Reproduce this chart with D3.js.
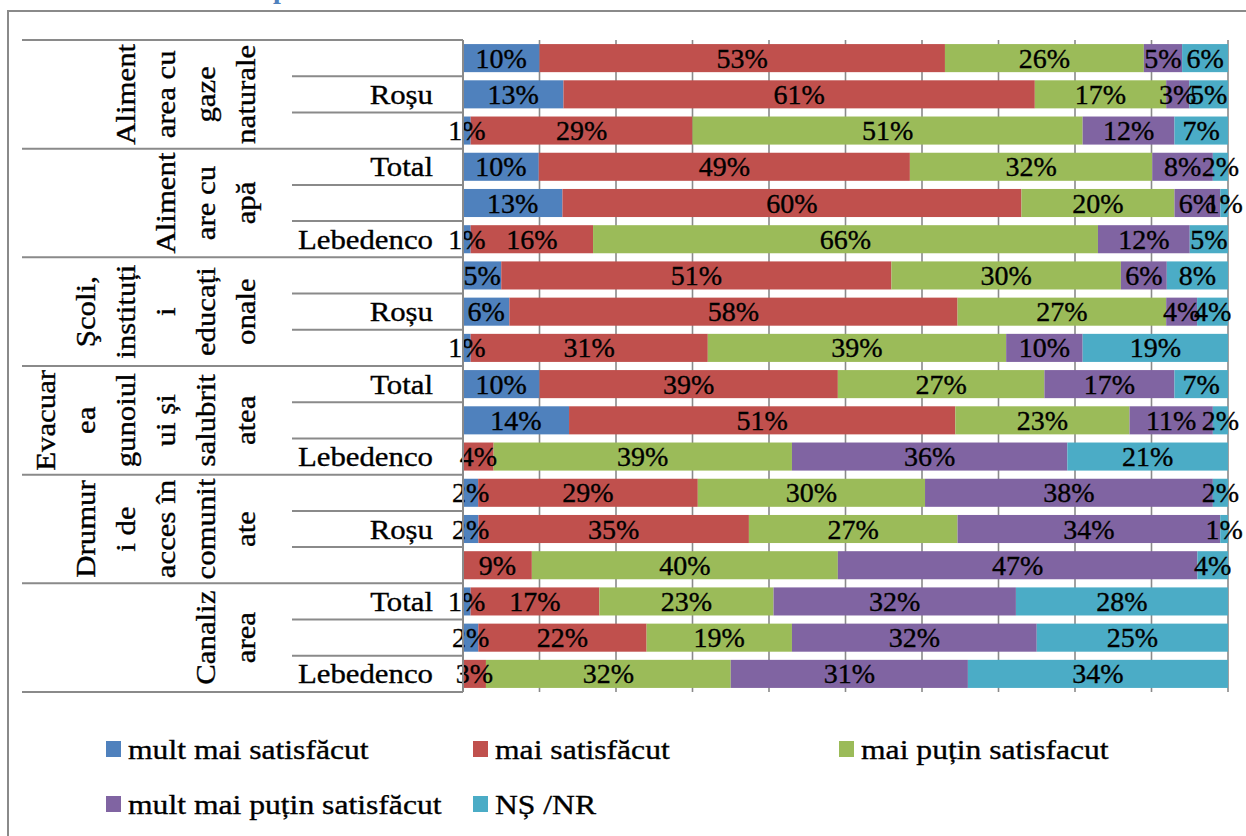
<!DOCTYPE html>
<html>
<head>
<meta charset="utf-8">
<script src="https://cdn.jsdelivr.net/npm/d3@7/dist/d3.min.js"></script>
<style>
  html, body { margin: 0; padding: 0; background: #fff; }
  svg { display: block; }
  text { font-family: "Liberation Serif", "Times New Roman", "DejaVu Serif", serif; fill: #000; stroke: #000; stroke-width: 0.35px; }
</style>
</head>
<body>
<svg id="chart" width="1246" height="836"></svg>
<script>
// Satisfaction with local services, by locality (rows listed top to bottom)
const groupLines = [
  ["Aliment", "area cu", "gaze", "naturale"],
  ["Aliment", "are cu", "apă"],
  ["Şcoli,", "instituți", "i", "educați", "onale"],
  ["Evacuar", "ea", "gunoiul", "ui și", "salubrit", "atea"],
  ["Drumur", "i de", "acces în", "comunit", "ate"],
  ["Canaliz", "area"]
];
const localities = ["Total", "Roșu", "Lebedenco"];

const seriesNames = [
  "mult mai satisfăcut",
  "mai satisfăcut",
  "mai puțin satisfacut",
  "mult mai puțin satisfăcut",
  "NȘ /NR"
];
const seriesColors = ["#4F81BD", "#C0504D", "#9BBB59", "#8064A2", "#4BACC6"];

const multMaiSatisfacut      = [10, 13, 1, 10, 13, 1, 5, 6, 1, 10, 14, 0, 2, 2, 0, 1, 2, 0];
const maiSatisfacut          = [53, 61, 29, 49, 60, 16, 51, 58, 31, 39, 51, 4, 29, 35, 9, 17, 22, 3];
const maiPutinSatisfacut     = [26, 17, 51, 32, 20, 66, 30, 27, 39, 27, 23, 39, 30, 27, 40, 23, 19, 32];
const multMaiPutinSatisfacut = [5, 3, 12, 8, 6, 12, 6, 4, 10, 17, 11, 36, 38, 34, 47, 32, 32, 31];
const nsNr                   = [6, 5, 7, 2, 1, 5, 8, 4, 19, 7, 2, 21, 2, 1, 4, 28, 25, 34];

const axisTicks = [0.1, 0.2, 0.3, 0.4, 0.5, 0.6, 0.7, 0.8, 0.9, 1.0];

// ---- table built from the arrays ----
const seriesValues = [multMaiSatisfacut, maiSatisfacut, maiPutinSatisfacut, multMaiPutinSatisfacut, nsNr];
const rows = [];
groupLines.forEach((g, gi) => {
  localities.forEach((loc, li) => rows.push({ id: gi * localities.length + li, group: gi, locality: loc }));
});
rows.forEach(r => {
  r.values = seriesValues.map(s => s[r.id]);
  r.total = d3.sum(r.values);
});
const stackData = rows.map(r => {
  const o = { id: r.id };
  seriesNames.forEach((n, i) => { o[n] = r.values[i] / r.total; });
  return o;
});
const stacked = d3.stack().keys(seriesNames)(stackData);

// ---- geometry ----
const svg = d3.select("#chart");
const plotLeft = 463, plotRight = 1228, plotTop = 40, plotBottom = 692;
const x = d3.scaleLinear().domain([0, 1]).range([plotLeft, plotRight]);
const y = d3.scaleBand().domain(rows.map(r => r.id)).range([plotTop, plotBottom])
  .paddingInner(0.225).paddingOuter(0.1125);
const step = y.step();
const lineColor = "#8a8a8a";
const wordStretch = 1.1;   // widen the serif face a little for word labels

// chart frame
svg.append("path")
  .attr("d", "M8,836 L8,11 L1246,11")
  .attr("fill", "none").attr("stroke", lineColor).attr("stroke-width", 2);

// title (mostly above the visible area)
svg.append("text")
  .attr("x", 273).attr("y", -2)
  .attr("font-size", 28).attr("font-weight", "bold")
  .style("fill", "#4F81BD").style("stroke", "none")
  .text("p");

// vertical gridlines
svg.append("g").selectAll("line").data(axisTicks).join("line")
  .attr("x1", d => x(d)).attr("x2", d => x(d))
  .attr("y1", plotTop).attr("y2", plotBottom)
  .attr("stroke", lineColor).attr("stroke-width", 1.6);

// bars
const layers = svg.append("g").selectAll("g").data(stacked).join("g")
  .attr("fill", (d, i) => seriesColors[i]);
layers.selectAll("rect").data(d => d).join("rect")
  .attr("x", d => x(d[0]))
  .attr("y", d => y(d.data.id))
  .attr("width", d => Math.max(0, x(d[1]) - x(d[0])))
  .attr("height", y.bandwidth());

// data labels
const labels = svg.append("g").attr("font-size", 28).attr("text-anchor", "middle");
stacked.forEach((layer, si) => {
  layer.forEach(d => {
    const v = rows[d.data.id].values[si];
    if (v === 0) return;
    labels.append("text")
      .attr("x", (x(d[0]) + x(d[1])) / 2)
      .attr("y", y(d.data.id) + y.bandwidth() / 2)
      .attr("dy", "0.34em")
      .text(v + "%");
  });
});

// category axis: baseline and separators
const catAxis = svg.append("g");
catAxis.append("line")
  .attr("x1", plotLeft).attr("x2", plotLeft)
  .attr("y1", plotTop).attr("y2", plotBottom)
  .attr("stroke", lineColor).attr("stroke-width", 2);
d3.range(rows.length + 1).forEach(i => {
  const yy = plotTop + i * step;
  const isGroupEdge = i % localities.length === 0;
  catAxis.append("line")
    .attr("x1", isGroupEdge ? 22 : 292).attr("x2", plotLeft)
    .attr("y1", yy).attr("y2", yy)
    .attr("stroke", lineColor).attr("stroke-width", 2);
});

// inner labels: every second category, counted from the bottom
catAxis.append("g").attr("font-size", 28).attr("text-anchor", "end")
  .selectAll("text")
  .data(rows.filter(r => (rows.length - 1 - r.id) % 2 === 0))
  .join("text")
  .attr("transform", r => `translate(433,${y(r.id) + y.bandwidth() / 2}) scale(${wordStretch},1)`)
  .attr("dy", "0.34em")
  .text(r => r.locality);

// outer group labels: rotated, wrapped lines
const lineGap = 40, lastLineX = 245;
groupLines.forEach((lines, gi) => {
  const cy = plotTop + (gi * localities.length + localities.length / 2) * step;
  const g = catAxis.append("g").attr("font-size", 28).attr("text-anchor", "middle");
  lines.forEach((ln, k) => {
    const lx = lastLineX - (lines.length - 1 - k) * lineGap;
    g.append("text")
      .attr("transform", `translate(${lx},${cy}) rotate(-90) scale(${wordStretch},1)`)
      .attr("dy", "0.34em")
      .text(ln);
  });
});

// legend
const legendCols = [106, 473, 839];
const legendRows = [749, 804];
const legend = svg.append("g").attr("font-size", 28);
seriesNames.forEach((name, i) => {
  const cx = legendCols[i % 3];
  const cy = legendRows[Math.floor(i / 3)];
  legend.append("rect")
    .attr("x", cx).attr("y", cy - 8)
    .attr("width", 15).attr("height", 16)
    .attr("fill", seriesColors[i]);
  legend.append("text")
    .attr("transform", `translate(${cx + 22},${cy}) scale(1.13,1)`)
    .attr("dy", "0.34em")
    .text(name);
});
</script>
</body>
</html>
